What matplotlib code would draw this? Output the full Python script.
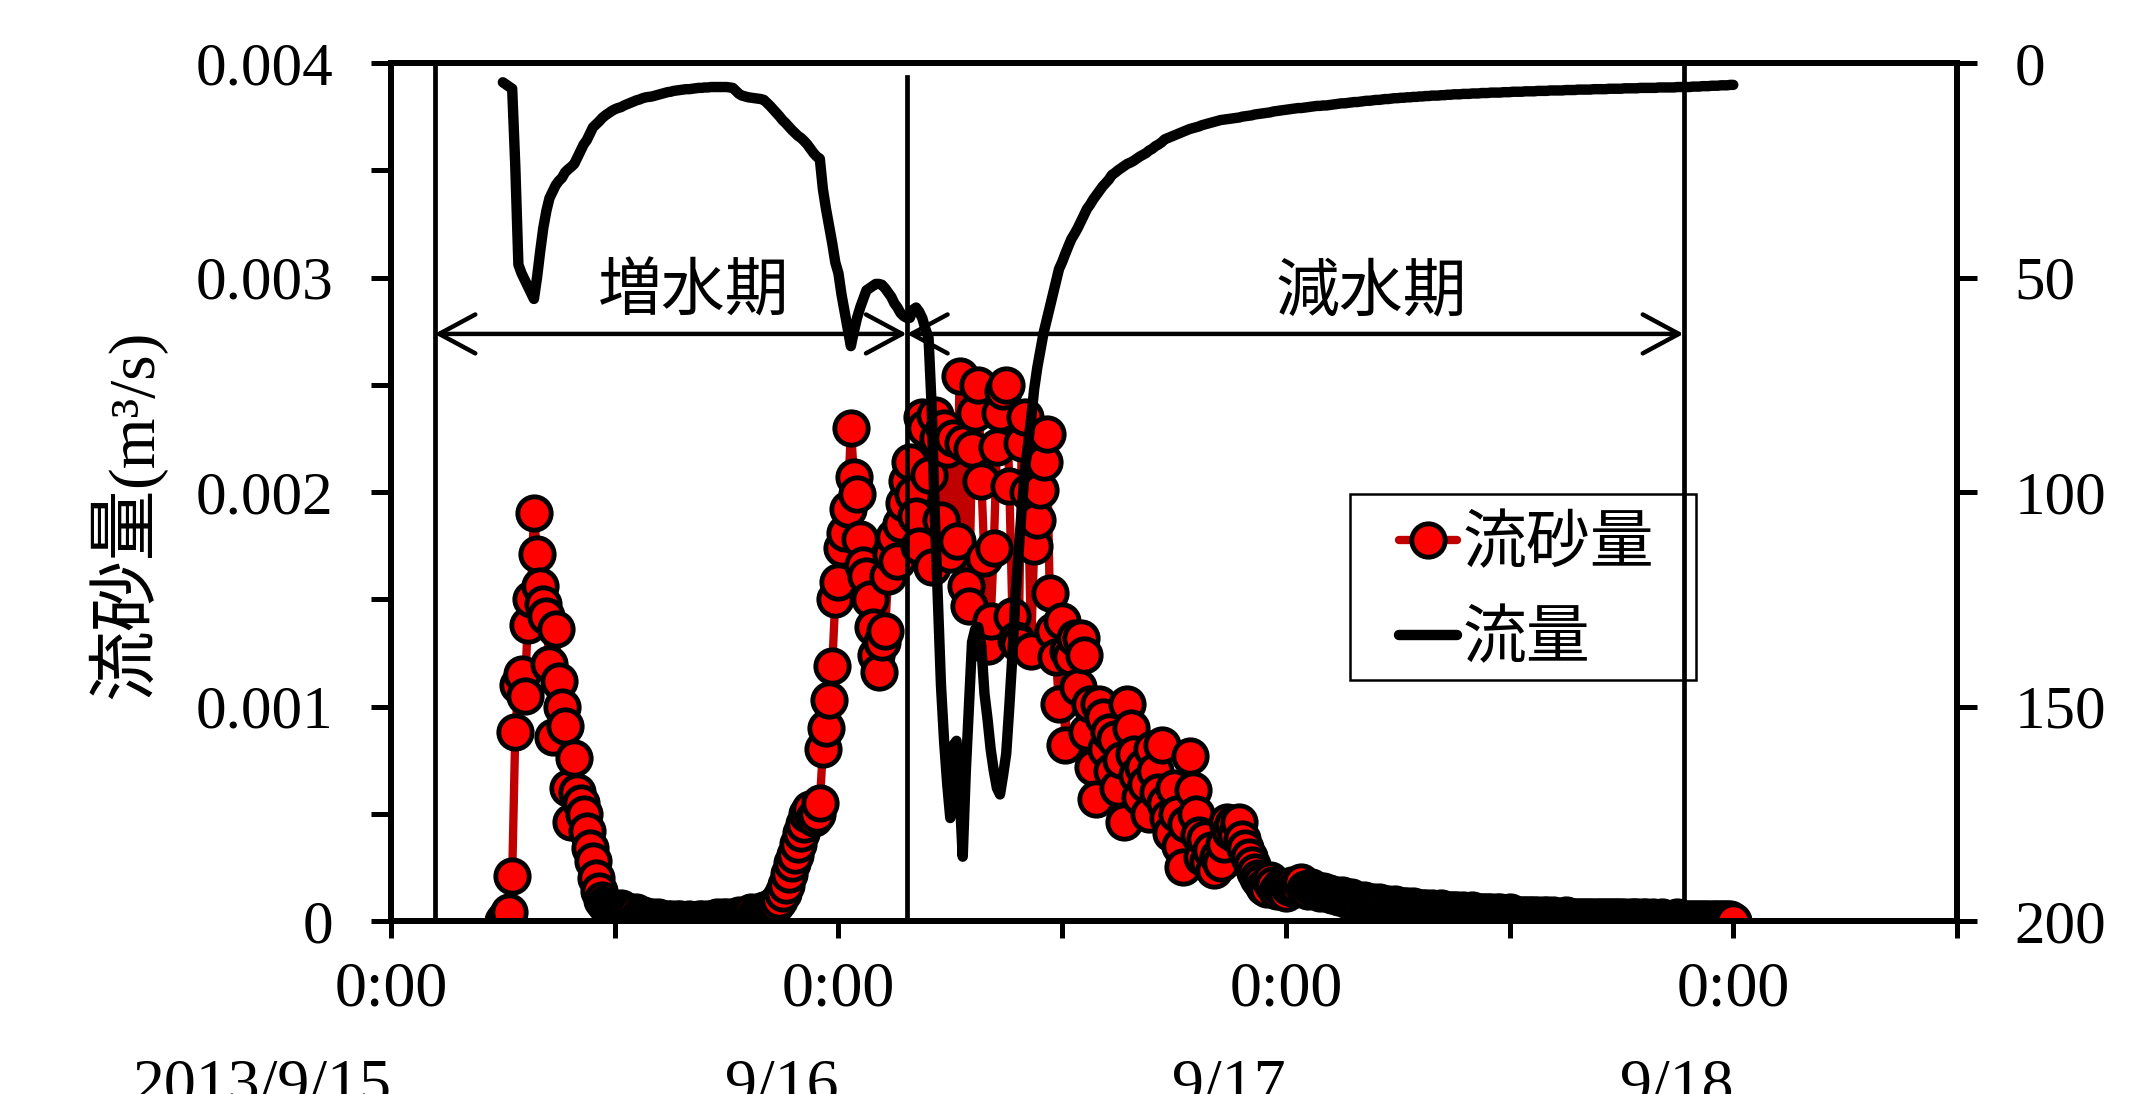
import matplotlib
matplotlib.use('Agg')
import matplotlib.pyplot as plt
import matplotlib.dates as mdates
import matplotlib.transforms as mtransforms
from matplotlib.patches import Rectangle
import numpy as np
import pandas as pd

plt.rcParams['font.family'] = ['Liberation Serif', 'Noto Sans CJK JP']

# sediment discharge, 10-minute data from 2013/9/15 6:00, in 1e-5 m3/s
sed_peak1 = [0, 2, 4, 21, 88, 110, 115, 105, 138, 150, 190, 171, 156, 148, 142, 120, 86, 136,
             112, 100, 91, 62, 46, 76, 60, 55, 50, 42, 34, 28, 20, 14, 10, 8, 7, 6]
sed_trough = [5, 5, 6, 5, 4, 4, 3, 4, 3, 3, 2, 2, 2, 1, 2, 1, 1, 1, 1, 0,
              1, 1, 0, 0, 1, 0, 0, 1, 1, 0, 1, 1, 1, 2, 1, 2, 2, 1, 2, 2,
              3, 2, 3, 3, 4, 3, 4, 4]
sed_rise = [5, 5, 6, 7, 8, 10, 13, 17, 22, 27, 31, 36, 41, 45, 50, 52, 48, 50, 55, 80,
            90, 103, 119, 150, 158, 174, 181, 192, 230, 207, 199, 178, 166, 161, 150, 137,
            124, 116, 130, 135, 161, 171, 179, 168, 185, 195]
sed_main = [205, 214, 199, 189, 175, 235, 230, 208, 165, 236,
            225, 187, 230, 220, 171, 225, 177, 254, 223, 156,
            147, 220, 237, 250, 205, 169, 128, 140, 174, 221,
            237, 247, 250, 203, 142, 131, 129, 223, 235, 200,
            126, 175, 187, 201, 214, 227, 153, 135, 123, 101,
            140, 82, 126, 123, 132]
sed_fall = [109, 132, 124, 88, 101, 72, 57, 101, 95, 80,
            88, 70, 85, 62, 75, 46, 101, 90, 78, 68,
            58, 72, 64, 50, 80, 70, 60, 82, 55, 48,
            41, 62, 50, 35, 25, 45, 77, 61, 50, 40,
            30, 38, 28, 33, 24, 30, 27, 36, 46, 42,
            45, 40, 46, 38, 34, 30, 26, 23, 20, 18,
            16, 15, 19, 17, 14, 16, 15, 13]
sed_tail = [16, 17, 15, 16, 18, 15, 14, 16, 15, 14, 13, 14, 13,
            13, 12, 12, 11, 12, 11, 10, 11, 10, 10, 9, 10, 9, 9, 9, 8, 9, 8, 8, 8, 7, 8, 7, 7, 7,
            7, 6, 7, 6, 6, 6, 6, 5, 6, 5, 5, 6, 5, 5, 5, 5, 5, 4, 5, 4,
            4, 5, 4, 4, 4, 4, 4, 4, 3, 4, 4, 3, 3, 4, 3, 3, 3, 3, 3, 3,
            3, 3, 3, 2, 3, 3, 2, 3, 2, 2, 2, 3, 2, 2, 2, 2, 2, 2, 2, 2,
            2, 2, 2, 2, 2, 2, 2, 2, 2, 2, 2, 1, 2, 2, 2, 1, 2, 2, 1, 2,
            1, 1, 2, 1, 1, 1, 1, 2, 1, 1, 1, 1, 1, 1, 1, 1, 1, 1, 1, 1,
            1, 1, 1, 1, 1, 0]
sediment = np.array(sed_peak1 + sed_trough + sed_rise + sed_main + sed_fall + sed_tail) * 1e-5

# discharge (m3/s), same 10-minute steps
flow = [4.5, 5.0, 5.5, 6.0, 24, 47, 49, 50.5, 52, 53.5,
        55, 50, 44, 38.5, 34.5, 31.5, 30, 28.5, 27.5, 26.8,
        25.5, 24.8, 24.2, 23.5, 22, 20.5, 19, 18, 16.5, 15,
        14.3, 13.6, 12.8, 12.2, 11.7, 11.2, 10.8, 10.5, 10.3, 9.9,
        9.6, 9.3, 9.0, 8.7, 8.5, 8.2, 8.0, 7.9, 7.8, 7.6,
        7.4, 7.2, 7.0, 6.8, 6.7, 6.5, 6.4, 6.3, 6.2, 6.1,
        6.1, 6.0, 5.9, 5.8, 5.8, 5.7, 5.7, 5.6, 5.6, 5.6,
        5.6, 5.6, 5.6, 5.7, 5.8, 6.5, 7.2, 7.6, 7.8, 8.0,
        8.1, 8.2, 8.3, 8.4, 8.6, 9.3, 10.0, 10.8, 11.6, 12.4,
        13.3, 14.0, 14.8, 15.6, 16.3, 17.0, 17.5, 18.2, 19.0, 20.0,
        21.0, 21.8, 22.3, 29.4, 34, 38, 42, 46.5, 49, 54,
        58, 62, 66, 62.5, 59.4, 57, 55, 53, 52.5, 52,
        51.5, 51.5, 51.7, 52.5, 53.5, 54.5, 56, 57, 58.3, 59,
        59.4, 59.4, 57.5, 57.0, 58.0, 59.5, 62, 64, 80, 105,
        125, 145, 158, 168, 176, 159, 158, 170, 185, 165,
        150, 135, 132, 131.5, 136, 147, 153, 160, 165, 169,
        170.5, 166, 161, 150, 138, 124, 114, 104, 95, 89,
        83, 76, 71, 67, 63, 60, 57, 54, 51, 48,
        46.4, 44.5, 42.7, 41, 39.8, 38.5, 37, 35.5, 34, 33,
        31.8, 30.8, 29.8, 28.8, 28, 27.2, 26.1, 25.6, 25, 24.5,
        24, 23.5, 23.2, 22.8, 22.3, 21.8, 21.4, 21, 20.4, 20,
        19.4, 19, 18.5, 17.8, 17.5, 17.2, 16.9, 16.6, 16.3, 16,
        15.7, 15.4, 15.2, 15, 14.8, 14.5, 14.3, 14.1, 13.9, 13.7,
        13.5, 13.3, 13.2, 13.1, 13.0, 12.9, 12.8, 12.7, 12.5, 12.4,
        12.3, 12.2, 12.0, 11.9, 11.8, 11.7, 11.6, 11.5, 11.3, 11.2,
        11.1, 11.0, 10.9, 10.8, 10.7, 10.6, 10.5, 10.5, 10.4, 10.3,
        10.2, 10.1, 10.0, 10.0, 9.9, 9.9, 9.8, 9.7, 9.6, 9.5,
        9.4, 9.4, 9.3, 9.2, 9.1, 9.1, 9.0, 8.9, 8.8, 8.8,
        8.7, 8.6, 8.6, 8.5, 8.4, 8.4, 8.3, 8.2, 8.2, 8.1,
        8.1, 8.0, 8.0, 7.9, 7.9, 7.8, 7.8, 7.7, 7.7, 7.6,
        7.6, 7.6, 7.5, 7.5, 7.4, 7.4, 7.3, 7.3, 7.3, 7.2,
        7.2, 7.2, 7.1, 7.1, 7.1, 7.0, 7.0, 7.0, 6.9, 6.9,
        6.9, 6.9, 6.8, 6.8, 6.8, 6.7, 6.7, 6.7, 6.7, 6.6,
        6.6, 6.6, 6.6, 6.5, 6.5, 6.5, 6.5, 6.4, 6.4, 6.4,
        6.4, 6.4, 6.3, 6.3, 6.3, 6.3, 6.2, 6.2, 6.2, 6.2,
        6.2, 6.1, 6.1, 6.1, 6.1, 6.1, 6.0, 6.0, 6.0, 6.0,
        6.0, 5.9, 5.9, 5.9, 5.9, 5.9, 5.8, 5.8, 5.8, 5.8,
        5.8, 5.8, 5.7, 5.7, 5.7, 5.7, 5.7, 5.7, 5.6, 5.6,
        5.6, 5.6, 5.6, 5.5, 5.5, 5.5, 5.4, 5.4, 5.4, 5.3,
        5.3, 5.3, 5.2, 5.2, 5.2, 5.1, 5.1]

t_sed = pd.date_range('2013-09-15 06:00', periods=len(sediment), freq='10min')
t_flow = pd.date_range('2013-09-15 06:00', periods=len(flow), freq='10min')

day_ticks = pd.date_range('2013-09-15', '2013-09-18 12:00', freq='12h')
date_labels = ['2013/9/15', '9/16', '9/17', '9/18']
y_ticks = [0, 0.0005, 0.001, 0.0015, 0.002, 0.0025, 0.003, 0.0035, 0.004]
y_labels = ['0', '', '0.001', '', '0.002', '', '0.003', '', '0.004']
q_ticks = [0, 50, 100, 150, 200]

# period boundaries
t_start = pd.Timestamp('2013-09-15 02:20')
t_peak = pd.Timestamp('2013-09-16 03:40')
t_end = pd.Timestamp('2013-09-17 21:20')

W, H = 2153, 1094
fs = 44
fig = plt.figure(figsize=(W / 100, H / 100), dpi=100)
ax = fig.add_axes([391 / W, 1 - 921 / H, 1566 / W, 858 / H])
ax2 = ax.twinx()

l1, = ax.plot(t_sed, sediment, color='#C00000', lw=6, marker='o', ms=24,
              mfc='#FF0000', mec='black', mew=3.5, zorder=2,
              solid_capstyle='round')
l2, = ax2.plot(t_flow, flow, color='black', lw=7.5, solid_joinstyle='round',
               solid_capstyle='round')

ax.set_xlim(pd.Timestamp('2013-09-15'), pd.Timestamp('2013-09-18 12:00'))
ax.set_ylim(0, 0.004)
ax2.set_ylim(200, 0)

ax.set_xticks(day_ticks)
ax.set_xticklabels(['0:00' if t.hour == 0 else '' for t in day_ticks])
ax.set_yticks(y_ticks)
ax.set_yticklabels(y_labels)
ax2.set_yticks(q_ticks)
ax2.set_yticklabels([str(q) for q in q_ticks])

ax.tick_params(axis='x', direction='out', length=12.5, width=3.6, pad=17, labelsize=46)
ax.tick_params(axis='y', direction='out', length=14.4, width=3.6, pad=27, labelsize=fs)
ax2.tick_params(axis='y', direction='out', length=14.4, width=3.6, pad=27, labelsize=fs)
for a in (ax, ax2):
    for s in a.spines.values():
        s.set_linewidth(4.3)

# second row of date labels, right aligned at the midnight ticks
trans = mtransforms.blended_transform_factory(ax.transData, ax.transAxes)
for t, s in zip(day_ticks[::2], date_labels):
    ax.text(mdates.date2num(t), -0.211, s, transform=trans, ha='right',
            va='baseline', fontsize=46, clip_on=False)

# boundary lines and arrows
ax.axvline(mdates.date2num(t_start), color='black', lw=3.4, zorder=3)
ax.axvline(mdates.date2num(t_end), color='black', lw=3.4, zorder=3)
ax.plot([t_peak, t_peak], [0, 0.003935], color='black', lw=3.4, zorder=3)

ya = 0.002737
arrow = dict(arrowstyle='<->,head_length=2.6,head_width=1.4', lw=3.2,
             color='black', shrinkA=0, shrinkB=0, mutation_scale=10)
ax.annotate('', xy=(mdates.date2num(t_peak), ya), xytext=(mdates.date2num(t_start), ya),
            arrowprops=arrow, zorder=3)
ax.annotate('', xy=(mdates.date2num(t_end), ya), xytext=(mdates.date2num(t_peak), ya),
            arrowprops=arrow, zorder=3)
ax.text(mdates.date2num(pd.Timestamp('2013-09-15 16:15')), 0.00292, '増水期',
        ha='center', va='center', fontsize=46)
ax.text(mdates.date2num(pd.Timestamp('2013-09-17 04:36')), 0.00292, '減水期',
        ha='center', va='center', fontsize=46)

# y label: kanji larger than the unit, as in the source figure
fig.text(129 / W, 1 - 593 / H, '流砂量', rotation=90, ha='center',
         va='center', fontsize=51)
fig.text(136 / W, 1 - 408 / H, '(m³/s)', rotation=90, ha='center',
         va='center', fontsize=47)

leg = ax2.legend([l1, l2], ['流砂量', '流量'], loc='upper left',
                 bbox_to_anchor=(0.6437, 0.4709), bbox_transform=ax.transAxes,
                 frameon=False, fontsize=46, handlelength=0.9, handletextpad=0.1,
                 borderpad=0, labelspacing=0.55, borderaxespad=0)
fig.add_artist(Rectangle((1350 / W, 1 - 680 / H), 346 / W, 186 / H,
                         transform=fig.transFigure, fill=False, lw=1.8,
                         ec='black'))

fig.savefig('out.png', dpi=100)
